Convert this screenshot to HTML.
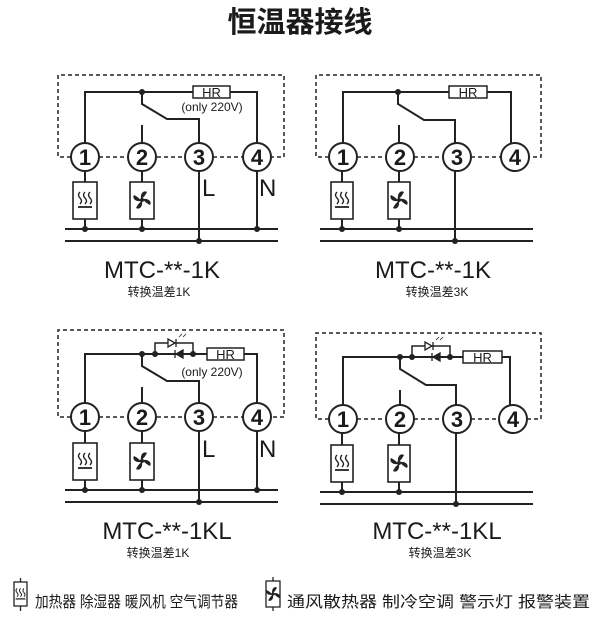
<!DOCTYPE html>
<html><head><meta charset="utf-8"><style>
html,body{margin:0;padding:0;background:#fff;}
svg{display:block}
text{font-family:"Liberation Sans","Noto Sans CJK SC",sans-serif;fill:#1a1a1a}
</style></head><body>
<svg width="600" height="620" viewBox="0 0 600 620" xmlns="http://www.w3.org/2000/svg">
<defs>
<g id="heat" fill="none" stroke="#222" stroke-width="1.4">
<path d="M-5,-8 q-3,3 0,6 q3,3 0,6 M0,-8 q-3,3 0,6 q3,3 0,6 M5,-8 q-3,3 0,6 q3,3 0,6"/>
<path d="M-7,7 H7" stroke-width="1.8"/>
</g>
<g id="fan" fill="#222">
<path d="M-1,-1 C-2,-7 2,-10 5,-8 C3,-4 1,-2 -1,-1Z"/>
<path d="M1,-1 C7,-2 10,2 8,5 C4,3 2,1 1,-1Z"/>
<path d="M0,1 C1,7 -3,10 -6,8 C-4,4 -2,2 0,1Z"/>
<path d="M-1,1 C-7,2 -10,-2 -8,-5 C-4,-3 -2,-1 -1,1Z"/>
<circle r="2"/>
</g>
</defs>
<text x="300" y="32" font-size="29" font-weight="bold" text-anchor="middle" font-family="'Noto Sans CJK SC',sans-serif">恒温器接线</text>

<g stroke="#222" stroke-width="2" fill="none">
<path d="M71,157 H58 V75 H284 V157 H271 M99,157 H129 M157,157 H185 M213,157 H243" stroke-dasharray="4,3" stroke-width="1.5"/>
<path d="M85,143 V92 H193 M230,92 H257 V143"/>
<rect x="193" y="86" width="37" height="12" stroke-width="1.5"/>
<path d="M142,92 V104 L167,119 H199 V143"/>
<path d="M142,125 V143"/>
<path d="M85,171 V182 M85,219 V229 M142,171 V182 M142,219 V229"/>
<rect x="73" y="182" width="24" height="37" stroke-width="1.6"/>
<rect x="130" y="182" width="24" height="37" stroke-width="1.6"/>
<path d="M199,171 V241 M257,171 V229"/>
<path d="M65,229 H278 M65,241 H278"/>

<path d="M329,157 H316 V75 H541 V157 H529 M357,157 H386 M414,157 H443 M471,157 H501" stroke-dasharray="4,3" stroke-width="1.5"/>
<path d="M343,143 V92 H449 M487,92 H511 V143"/>
<rect x="449" y="86" width="38" height="12" stroke-width="1.5"/>
<path d="M398,92 V104 L424,120 H455 V143"/>
<path d="M399,125 V143"/>
<path d="M342,171 V182 M342,219 V229 M399,171 V182 M399,219 V229"/>
<rect x="331" y="182" width="22" height="37" stroke-width="1.6"/>
<rect x="388" y="182" width="22" height="37" stroke-width="1.6"/>
<path d="M455,171 V241"/>
<path d="M320,229 H533 M320,241 H533"/>

<path d="M71,417 H58 V330 H284 V417 H271 M99,417 H129 M157,417 H185 M213,417 H243" stroke-dasharray="4,3" stroke-width="1.5"/>
<path d="M85,403 V354 H207 M244,354 H257 V403"/>
<rect x="207" y="348" width="37" height="12" stroke-width="1.5"/>
<path d="M155,354 V343 H193 V354" stroke-width="1.5"/>
<path d="M142,354 V366 L167,381 H199 V403"/>
<path d="M142,387 V403"/>
<path d="M85,431 V443 M85,480 V490 M142,431 V443 M142,480 V490"/>
<rect x="73" y="443" width="24" height="37" stroke-width="1.6"/>
<rect x="130" y="443" width="24" height="37" stroke-width="1.6"/>
<path d="M199,431 V502 M257,431 V490"/>
<path d="M65,490 H278 M65,502 H278"/>

<path d="M329,419 H316 V333 H541 V419 H527 M357,419 H386 M414,419 H443 M471,419 H499" stroke-dasharray="4,3" stroke-width="1.5"/>
<path d="M343,405 V357 H463 M502,357 H510 V405"/>
<rect x="463" y="351" width="39" height="12" stroke-width="1.5"/>
<path d="M412,357 V346 H450 V357" stroke-width="1.5"/>
<path d="M400,357 V369 L426,385 H456 V405"/>
<path d="M400,390 V405"/>
<path d="M342,433 V445 M342,482 V492 M399,433 V445 M399,482 V492"/>
<rect x="331" y="445" width="22" height="37" stroke-width="1.6"/>
<rect x="388" y="445" width="22" height="37" stroke-width="1.6"/>
<path d="M456,433 V504"/>
<path d="M320,492 H533 M320,504 H533"/>

<rect x="14" y="582" width="13" height="24" stroke-width="1.3"/>
<path d="M20.5,578 V582 M20.5,606 V611" stroke-width="1.3"/>
<rect x="266" y="581" width="14" height="26" stroke-width="1.3"/>
<path d="M273,577 V581 M273,607 V611" stroke-width="1.3"/>
</g>

<g fill="#fff" stroke="#222" stroke-width="1.3">
<path d="M168,339 V347 L175,343Z"/><path d="M176,339 V347"/>
<path d="M183,350 V358 L176,354Z" fill="#222"/><path d="M175,350 V358"/>
<path d="M425,342 V350 L432,346Z"/><path d="M433,342 V350"/>
<path d="M440,353 V361 L433,357Z" fill="#222"/><path d="M432,353 V361"/>
<path d="M179,337 l3,-3 M183,337 l3,-3 M436,340 l3,-3 M440,340 l3,-3" stroke-width="0.8"/>
</g>

<g fill="#fff" stroke="#222" stroke-width="2">
<circle cx="85" cy="157" r="14"/><circle cx="142" cy="157" r="14"/><circle cx="199" cy="157" r="14"/><circle cx="257" cy="157" r="14"/>
<circle cx="343" cy="157" r="14"/><circle cx="400" cy="157" r="14"/><circle cx="457" cy="157" r="14"/><circle cx="515" cy="157" r="14"/>
<circle cx="85" cy="417" r="14"/><circle cx="142" cy="417" r="14"/><circle cx="199" cy="417" r="14"/><circle cx="257" cy="417" r="14"/>
<circle cx="343" cy="419" r="14"/><circle cx="400" cy="419" r="14"/><circle cx="457" cy="419" r="14"/><circle cx="513" cy="419" r="14"/>
</g>
<g fill="#222">
<circle cx="142" cy="92" r="3"/><circle cx="85" cy="229" r="3"/><circle cx="142" cy="229" r="3"/><circle cx="199" cy="241" r="3"/><circle cx="257" cy="229" r="3"/>
<circle cx="398" cy="92" r="3"/><circle cx="342" cy="229" r="3"/><circle cx="399" cy="229" r="3"/><circle cx="455" cy="241" r="3"/>
<circle cx="142" cy="354" r="3"/><circle cx="155" cy="354" r="3"/><circle cx="193" cy="354" r="3"/>
<circle cx="85" cy="490" r="3"/><circle cx="142" cy="490" r="3"/><circle cx="199" cy="502" r="3"/><circle cx="257" cy="490" r="3"/>
<circle cx="400" cy="357" r="3"/><circle cx="412" cy="357" r="3"/><circle cx="450" cy="357" r="3"/>
<circle cx="342" cy="492" r="3"/><circle cx="399" cy="492" r="3"/><circle cx="456" cy="504" r="3"/>
</g>
<use href="#heat" x="85" y="200"/><use href="#fan" x="142" y="200"/>
<use href="#heat" x="342" y="200"/><use href="#fan" x="399" y="200"/>
<use href="#heat" x="85" y="461"/><use href="#fan" x="142" y="461"/>
<use href="#heat" x="342" y="463"/><use href="#fan" x="399" y="463"/>
<g transform="translate(20.5,594) scale(0.7)"><use href="#heat"/></g>
<g transform="translate(273,594) scale(0.8)"><use href="#fan"/></g>

<g font-size="22" font-weight="bold" text-anchor="middle">
<text x="85" y="165">1</text><text x="142" y="165">2</text><text x="199" y="165">3</text><text x="257" y="165">4</text>
<text x="343" y="165">1</text><text x="400" y="165">2</text><text x="457" y="165">3</text><text x="515" y="165">4</text>
<text x="85" y="425">1</text><text x="142" y="425">2</text><text x="199" y="425">3</text><text x="257" y="425">4</text>
<text x="343" y="427">1</text><text x="400" y="427">2</text><text x="457" y="427">3</text><text x="513" y="427">4</text>
</g>
<g font-size="13" text-anchor="middle">
<text x="211.5" y="97">HR</text><text x="468" y="97">HR</text><text x="225.5" y="359">HR</text><text x="482.5" y="362">HR</text>
</g>
<g font-size="12" text-anchor="middle">
<text x="212" y="111">(only 220V)</text><text x="212" y="376">(only 220V)</text>
</g>
<g font-size="24">
<text x="202" y="196">L</text><text x="259" y="196">N</text>
<text x="202" y="457">L</text><text x="259" y="457">N</text>
</g>
<g font-size="24" text-anchor="middle">
<text x="162" y="278">MTC-**-1K</text><text x="433" y="278">MTC-**-1K</text>
<text x="167" y="539">MTC-**-1KL</text><text x="437" y="539">MTC-**-1KL</text>
</g>
<g font-size="12" text-anchor="middle" font-family="'Noto Sans CJK SC',sans-serif">
<text x="159" y="296">转换温差1K</text><text x="437" y="296">转换温差3K</text>
<text x="158" y="557">转换温差1K</text><text x="440" y="557">转换温差3K</text>
</g>
<g font-family="'Noto Sans CJK SC',sans-serif">
<text x="35" y="607" font-size="15.5" textLength="203" lengthAdjust="spacingAndGlyphs">加热器 除湿器  暖风机 空气调节器</text>
<text x="287" y="607" font-size="15.5" textLength="303" lengthAdjust="spacingAndGlyphs">通风散热器 制冷空调 警示灯 报警装置</text>
</g>
</svg>
</body></html>
